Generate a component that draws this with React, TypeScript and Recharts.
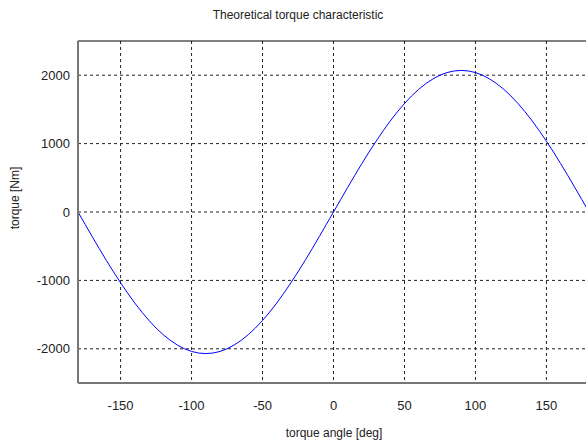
import React from "react";
import {
  LineChart,
  Line,
  XAxis,
  YAxis,
  CartesianGrid,
  ReferenceLine,
} from "recharts";

// torque angle [deg], sampled every 5 degrees
const angles = [
  -180, -175, -170, -165, -160, -155, -150, -145, -140, -135, -130, -125, -120,
  -115, -110, -105, -100, -95, -90, -85, -80, -75, -70, -65, -60, -55, -50, -45,
  -40, -35, -30, -25, -20, -15, -10, -5, 0, 5, 10, 15, 20, 25, 30, 35, 40, 45,
  50, 55, 60, 65, 70, 75, 80, 85, 90, 95, 100, 105, 110, 115, 120, 125, 130,
  135, 140, 145, 150, 155, 160, 165, 170, 175, 180,
];

// torque [Nm]
const torque = [
  0, -180, -359, -536, -708, -875, -1035, -1187, -1331, -1464, -1586, -1696,
  -1793, -1876, -1945, -2000, -2039, -2062, -2070, -2062, -2039, -2000, -1945,
  -1876, -1793, -1696, -1586, -1464, -1331, -1187, -1035, -875, -708, -536,
  -359, -180, 0, 180, 359, 536, 708, 875, 1035, 1187, 1331, 1464, 1586, 1696,
  1793, 1876, 1945, 2000, 2039, 2062, 2070, 2062, 2039, 2000, 1945, 1876, 1793,
  1696, 1586, 1464, 1331, 1187, 1035, 875, 708, 536, 359, 180, 0,
];

const xTicks = [-150, -100, -50, 0, 50, 100, 150];
const yTicks = [-2000, -1000, 0, 1000, 2000];

const data = angles.map((a, i) => ({ angle: a, torque: torque[i] }));

const FONT = "'Liberation Sans', Arial, Helvetica, sans-serif";

export default function App() {
  return (
    <div
      style={{
        position: "fixed",
        left: 0,
        top: 0,
        width: 586,
        height: 443,
        overflow: "hidden",
        background: "#fff",
        fontFamily: FONT,
      }}
    >
      <div
        style={{
          position: "absolute",
          left: 0,
          top: 8,
          width: 586,
          textAlign: "center",
          fontSize: 12,
          color: "#222",
          paddingLeft: 10,
          boxSizing: "border-box",
        }}
      >
        Theoretical torque characteristic
      </div>
      <div
        style={{
          position: "absolute",
          left: 8,
          top: 198,
          transform: "translate(-50%, -50%) rotate(-90deg)",
          transformOrigin: "center",
          marginLeft: 7,
          fontSize: 12,
          color: "#222",
          whiteSpace: "nowrap",
        }}
      >
        torque [Nm]
      </div>
      <div
        style={{
          position: "absolute",
          left: 234,
          width: 200,
          top: 426,
          textAlign: "center",
          fontSize: 12,
          color: "#222",
        }}
      >
        torque angle [deg]
      </div>
      <LineChart
        width={600}
        height={443}
        data={data}
        margin={{ top: 41, right: 11, bottom: 30, left: 18 }}
        style={{ position: "absolute", left: 0, top: 0 }}
      >
        <CartesianGrid
          stroke="#222"
          strokeDasharray="3 3"
          horizontalValues={yTicks}
          verticalValues={xTicks}
        />
        <ReferenceLine y={2500} stroke="#000" strokeWidth={1} />
        <XAxis
          type="number"
          dataKey="angle"
          domain={[-180, 180]}
          ticks={xTicks}
          height={30}
          axisLine={{ stroke: "#777", strokeWidth: 2 }}
          tickLine={false}
          tick={{ fill: "#222", fontSize: 13, fontFamily: FONT, dy: 10 }}
          allowDataOverflow
        />
        <YAxis
          type="number"
          domain={[-2500, 2500]}
          ticks={yTicks}
          width={60}
          axisLine={{ stroke: "#777", strokeWidth: 2 }}
          tickLine={false}
          tick={{ fill: "#222", fontSize: 13, fontFamily: FONT, dx: 0 }}
          allowDataOverflow
        />
        <Line
          type="linear"
          dataKey="torque"
          stroke="#0000ff"
          strokeWidth={1}
          dot={false}
          isAnimationActive={false}
        />
      </LineChart>
    </div>
  );
}
